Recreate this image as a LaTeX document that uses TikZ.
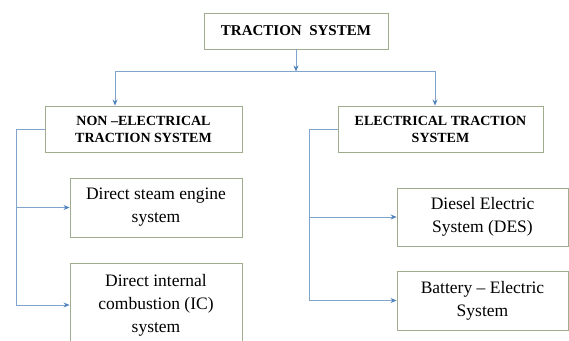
\documentclass[tikz,border=0pt]{standalone}
\usepackage{fontspec}
\setmainfont{Liberation Serif}
\definecolor{boxgreen}{RGB}{160, 172, 142}
\definecolor{linkblue}{RGB}{128, 164, 204}
\definecolor{tipblue}{RGB}{80, 130, 190}
\usetikzlibrary{shapes, arrows.meta, positioning, calc}

\tikzset{
  sysbox/.style={draw=boxgreen, line width=0.9pt, align=center, inner sep=2pt},
  headbox/.style={sysbox, font=\bfseries\fontsize{14}{17}\selectfont},
  leafbox/.style={sysbox, font=\fontsize{17.5}{23}\selectfont},
  link/.style={draw=linkblue, line width=0.9pt},
  arrow/.style={link, -{Stealth[length=6pt, width=5pt, color=tipblue]}}
}

\begin{document}
\begin{tikzpicture}[x=1pt, y=-1pt]
  \clip (0,0) rectangle (569,340);

  % top box
  \node[headbox, font=\bfseries\fontsize{15}{18}\selectfont,
        minimum width=184pt, minimum height=36pt] (traction) at (296,31) {TRACTION\ \ SYSTEM};

  % two main branches
  \node[headbox, minimum width=197pt, minimum height=46pt] (nonelec) at (143.5,129)
    {NON --ELECTRICAL\\TRACTION SYSTEM};
  \node[headbox, minimum width=205pt, minimum height=46pt] (elec) at (440.5,129)
    {ELECTRICAL TRACTION\\SYSTEM};

  % non-electrical kinds
  \node[leafbox, minimum width=172pt, minimum height=59pt] (steam) at (156,207.5)
    {Direct steam engine\\system};
  \node[leafbox, minimum width=172pt, minimum height=84pt] (ic) at (156,305)
    {Direct internal\\combustion (IC)\\system};

  % electrical kinds
  \node[leafbox, minimum width=171pt, minimum height=58pt] (diesel) at (482.5,217)
    {Diesel Electric\\System (DES)};
  \node[leafbox, minimum width=171pt, minimum height=59pt] (battery) at (482.5,300.5)
    {Battery -- Electric\\System};

  % splitting line under the top box
  \coordinate (split) at ($(traction.south)+(0,22)$);
  \coordinate (splitL) at (nonelec.north -| 115,0);
  \coordinate (splitR) at (elec.north -| 435,0);
  \draw[arrow] (traction.south) -- (split);
  \draw[link] (split -| splitL) -- (split -| splitR);
  \draw[arrow] (split -| splitL) -- (splitL);
  \draw[arrow] (split -| splitR) -- (splitR);

  % side buses
  \coordinate (busL) at ([xshift=-28pt]nonelec.west);
  \coordinate (busR) at ([xshift=-28pt]elec.west);
  \draw[link] (nonelec.west) -- (busL);
  \draw[arrow] (busL) |- (steam.west);
  \draw[arrow] (busL) |- (ic.west);
  \draw[link] (elec.west) -- (busR);
  \draw[arrow] (busR) |- (diesel.west);
  \draw[arrow] (busR) |- (battery.west);
\end{tikzpicture}
\end{document}
